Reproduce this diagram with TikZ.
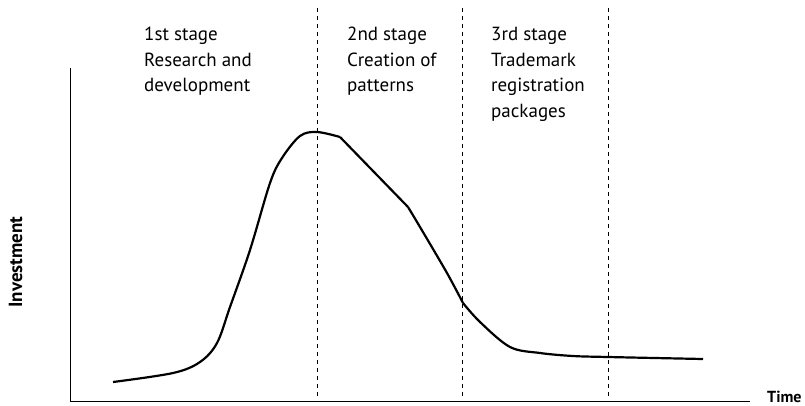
\documentclass[tikz,border=0pt]{standalone}
\usepackage{fontspec}
\setmainfont{PT Sans}
\usepackage{tikz}
\usetikzlibrary{positioning}
\usetikzlibrary{calc}

\begin{document}
\begin{tikzpicture}[x=1pt,y=-1pt]
      \useasboundingbox (0,0) rectangle (805,405);
      % axes
      \coordinate (o) at (70.5,401);
      \coordinate (ytop) at (70.5,68);
      \coordinate (xend) at (750,401);
      \draw[line width=1pt] (ytop) -- (o) -- (xend);
      \begin{scope}[every node/.style={font=\bfseries,inner sep=0pt}]
        \node[rotate=90,font=\bfseries\fontsize{19}{22}\selectfont] (inv) at (15.5,262) {Investment};
        \node[anchor=base west,font=\bfseries\fontsize{16}{19}\selectfont] (time) at (767,402) {Time};
      \end{scope}
      % stage borders
      \begin{scope}[every path/.style={draw,line width=1pt,dash pattern=on 4pt off 4pt}]
        \coordinate (s1t) at (317,8);
        \coordinate (s1b) at (317,398);
        \coordinate (s2t) at (462,8);
        \coordinate (s2b) at (462,398);
        \coordinate (s3t) at (608,8);
        \coordinate (s3b) at (608,398);
        \path (s1t) -- (s1b);
        \path (s2t) -- (s2b);
        \path (s3t) -- (s3b);
      \end{scope}
      % stage labels
      \begin{scope}[every node/.style={align=left,inner sep=0pt,anchor=north west,font=\fontsize{19}{25.5}\selectfont}]
        \node (st1) at (144,27) {1st stage\\Research and\\development};
        \node (st2) at (347,27) {2nd stage\\Creation of\\patterns};
        \node (st3) at (491,27) {3rd stage\\Trademark\\registration\\packages};
      \end{scope}
      % investment curve
      \begin{scope}[line width=2.2pt,line join=round]
        \draw plot[smooth,tension=0.55] coordinates {(113,382) (173,373) (200,362) (217,343) (230,307) (250,250) (270,183) (282,158) (300,136) (317,132) (340,137)};
        \draw (340,137) -- (408,207);
        \draw plot[smooth,tension=0.5] coordinates {(408,207) (420,227) (447,273) (463,303)};
        \draw plot[smooth,tension=0.55] coordinates {(463,303) (480,322) (510,347) (540,353) (573,356) (608,357) (703,359)};
      \end{scope}
    \end{tikzpicture}
\end{document}
